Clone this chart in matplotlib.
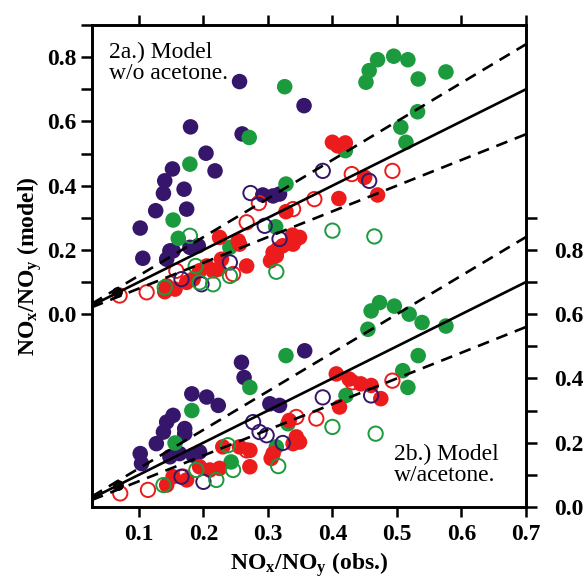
import matplotlib
matplotlib.use("Agg")
import matplotlib.pyplot as plt
from matplotlib.ticker import FixedLocator
import numpy as np

plt.rcParams['font.family'] = ['Liberation Serif', 'DejaVu Serif']
plt.rcParams['mathtext.fontset'] = 'custom'
plt.rcParams['mathtext.rm'] = 'Liberation Serif'
plt.rcParams['mathtext.bf'] = 'Liberation Serif:bold'
plt.rcParams['mathtext.it'] = 'Liberation Serif:italic'

PURPLE = '#36166a'
GREEN = '#1b9a3e'
RED = '#ec1c1c'

# ---------------- Panel 2a (model w/o acetone), left axis ----------------
a_purple_x = [0.256, 0.356, 0.180, 0.260, 0.204, 0.152, 0.218, 0.140, 0.170, 0.138, 0.126,
              0.174, 0.102, 0.106, 0.292, 0.308, 0.318, 0.148, 0.153, 0.179, 0.192, 0.143]
a_purple_y = [0.724, 0.649, 0.583, 0.561, 0.501, 0.452, 0.446, 0.415, 0.389, 0.376, 0.322,
              0.327, 0.268, 0.174, 0.371, 0.368, 0.374, 0.197, 0.197, 0.208, 0.213, 0.171]
a_green_x = [0.326, 0.452, 0.457, 0.470, 0.495, 0.517, 0.533, 0.576, 0.532, 0.506, 0.514,
             0.420, 0.271, 0.179, 0.328, 0.153, 0.161, 0.312, 0.241]
a_green_y = [0.708, 0.722, 0.758, 0.792, 0.803, 0.792, 0.732, 0.754, 0.630, 0.582, 0.535,
             0.509, 0.550, 0.467, 0.405, 0.293, 0.236, 0.272, 0.208]
a_red_x = [0.400, 0.408, 0.420, 0.410, 0.450, 0.470, 0.328, 0.338, 0.344, 0.349, 0.339,
           0.308, 0.304, 0.315, 0.225, 0.254, 0.256, 0.267, 0.205, 0.215, 0.223, 0.194,
           0.174, 0.184, 0.156, 0.143, 0.140, 0.323, 0.313, 0.228]
a_red_y = [0.535, 0.524, 0.533, 0.360, 0.426, 0.371, 0.319, 0.246, 0.234, 0.239, 0.218,
           0.192, 0.166, 0.202, 0.239, 0.228, 0.218, 0.150, 0.150, 0.135, 0.140, 0.135,
           0.099, 0.109, 0.078, 0.088, 0.070, 0.213, 0.182, 0.171]
a_red_open_x = [0.493, 0.430, 0.372, 0.339, 0.286, 0.267, 0.158, 0.112, 0.070, 0.246]
a_red_open_y = [0.446, 0.436, 0.358, 0.327, 0.346, 0.286, 0.135, 0.068, 0.058, 0.125]
a_purple_open_x = [0.385, 0.457, 0.273, 0.295, 0.318, 0.241, 0.166, 0.197]
a_purple_open_y = [0.446, 0.415, 0.377, 0.275, 0.234, 0.161, 0.109, 0.093]
a_green_open_x = [0.400, 0.465, 0.313, 0.188, 0.241, 0.179, 0.194, 0.215, 0.140]
a_green_open_y = [0.260, 0.242, 0.132, 0.150, 0.119, 0.244, 0.099, 0.093, 0.083]
a_black_x = [0.066]
a_black_y = [0.070]

# ---------------- Panel 2b (model w/ acetone), right axis ----------------
b_purple_x = [0.357, 0.259, 0.263, 0.182, 0.205, 0.223, 0.153, 0.143, 0.138, 0.171, 0.171,
              0.127, 0.102, 0.104, 0.303, 0.318, 0.148, 0.163, 0.184, 0.194]
b_purple_y = [0.486, 0.450, 0.403, 0.352, 0.342, 0.316, 0.285, 0.264, 0.233, 0.244, 0.228,
              0.197, 0.166, 0.135, 0.321, 0.316, 0.156, 0.166, 0.161, 0.171]
b_green_x = [0.328, 0.455, 0.460, 0.473, 0.496, 0.519, 0.539, 0.576, 0.533, 0.509, 0.517,
             0.421, 0.272, 0.182, 0.331, 0.156, 0.313, 0.243]
b_green_y = [0.471, 0.553, 0.610, 0.636, 0.625, 0.600, 0.574, 0.563, 0.471, 0.424, 0.372,
             0.347, 0.372, 0.300, 0.259, 0.199, 0.187, 0.140]
b_red_x = [0.406, 0.426, 0.444, 0.460, 0.475, 0.411, 0.333, 0.344, 0.349, 0.339, 0.308,
           0.305, 0.230, 0.256, 0.272, 0.272, 0.194, 0.210, 0.225, 0.153, 0.143, 0.174]
b_red_y = [0.414, 0.398, 0.383, 0.378, 0.337, 0.311, 0.269, 0.218, 0.202, 0.197, 0.166,
           0.151, 0.187, 0.187, 0.176, 0.125, 0.125, 0.115, 0.120, 0.094, 0.068, 0.084]
b_red_open_x = [0.493, 0.431, 0.375, 0.344, 0.267, 0.169, 0.114, 0.071]
b_red_open_y = [0.393, 0.388, 0.275, 0.280, 0.176, 0.094, 0.053, 0.042]
b_purple_open_x = [0.385, 0.460, 0.277, 0.287, 0.298, 0.323, 0.166, 0.200]
b_purple_open_y = [0.341, 0.347, 0.264, 0.233, 0.223, 0.199, 0.094, 0.078]
b_green_open_x = [0.400, 0.467, 0.316, 0.238, 0.246, 0.189, 0.220, 0.138]
b_green_open_y = [0.249, 0.228, 0.127, 0.192, 0.115, 0.115, 0.084, 0.068]
b_black_x = [0.068]
b_black_y = [0.068]

# reference lines: 1:1 and +/-20 %
line_slopes = [1.0, 1.2, 0.8]
line_styles = ['-', '--', '--']
line_x = [0.027, 0.7]

x_ticks = [0.1, 0.2, 0.3, 0.4, 0.5, 0.6, 0.7]
y_major = [0.0, 0.2, 0.4, 0.6, 0.8]
y_minor = [0.1, 0.3, 0.5, 0.7, 0.9]

fig = plt.figure(figsize=(5.85, 5.82), dpi=100)
ax = fig.add_axes([0.157, 0.129, 0.742, 0.828])
ax2 = ax.twinx()

MS = 125
LW_OPEN = 1.4


def draw_panel(axis, px, py, gx, gy, rx, ry, rox, roy, pox, poy, gox, goy, kx, ky):
    axis.scatter(px, py, s=MS, c=PURPLE, edgecolors='none', zorder=2)
    axis.scatter(gx, gy, s=MS, c=GREEN, edgecolors='none', zorder=2)
    axis.scatter(rx, ry, s=MS, c=RED, edgecolors='none', zorder=2)
    axis.scatter(rox, roy, s=MS * 0.85, facecolors='none', edgecolors=RED, linewidths=LW_OPEN, zorder=3)
    axis.scatter(pox, poy, s=MS * 0.85, facecolors='none', edgecolors=PURPLE, linewidths=LW_OPEN, zorder=3)
    axis.scatter(gox, goy, s=MS * 0.85, facecolors='none', edgecolors=GREEN, linewidths=LW_OPEN, zorder=3)
    for sl, st in zip(line_slopes, line_styles):
        xx = np.array(line_x)
        ln, = axis.plot(xx, sl * xx, color='black', lw=1.9, ls=st, zorder=5,
                        solid_capstyle='butt')
        if st == '--':
            ln.set_dashes((4.5, 3.0))
    axis.scatter(kx, ky, s=45, c='black', marker='o', zorder=6)


draw_panel(ax, a_purple_x, a_purple_y, a_green_x, a_green_y, a_red_x, a_red_y,
           a_red_open_x, a_red_open_y, a_purple_open_x, a_purple_open_y,
           a_green_open_x, a_green_open_y, a_black_x, a_black_y)
draw_panel(ax2, b_purple_x, b_purple_y, b_green_x, b_green_y, b_red_x, b_red_y,
           b_red_open_x, b_red_open_y, b_purple_open_x, b_purple_open_y,
           b_green_open_x, b_green_open_y, b_black_x, b_black_y)

ax.set_xlim(0.027, 0.7)
ax.set_ylim(-0.6, 0.9)
ax2.set_ylim(0.0, 1.5)

ax.xaxis.set_major_locator(FixedLocator(x_ticks))
ax.set_xticklabels([f'{v:.1f}' for v in x_ticks])
ax.yaxis.set_major_locator(FixedLocator(y_major))
ax.yaxis.set_minor_locator(FixedLocator(y_minor))
ax.set_yticklabels([f'{v:.1f}' for v in y_major])
ax2.yaxis.set_major_locator(FixedLocator(y_major))
ax2.yaxis.set_minor_locator(FixedLocator(y_minor))
ax2.set_yticklabels([f'{v:.1f}' for v in y_major])

for a in (ax, ax2):
    for sp in a.spines.values():
        sp.set_linewidth(1.9)
ax.tick_params(axis='x', which='both', direction='out', length=7, width=1.8,
               top=True, bottom=True, labeltop=False, labelsize=17, pad=5)
ax.tick_params(axis='y', which='both', direction='out', length=8, width=1.8,
               left=True, right=False, labelsize=17, pad=3)
ax2.tick_params(axis='y', which='both', direction='out', length=8, width=1.8,
                left=False, right=True, labelsize=17, pad=12)
for lab in ax.get_xticklabels() + ax.get_yticklabels() + ax2.get_yticklabels():
    lab.set_fontweight('bold')

ax.set_xlabel(r'NO$_{\mathbf{x}}$/NO$_{\mathbf{y}}$ (obs.)', fontsize=17, fontweight='bold', labelpad=4)
ax.set_ylabel(r'NO$_{\mathbf{x}}$/NO$_{\mathbf{y}}$ (model)', fontsize=17, fontweight='bold', labelpad=2)

ax.text(0.04, 0.965, '2a.) Model\nw/o acetone.', transform=ax.transAxes,
        fontsize=17, va='top', ha='left', linespacing=1.0)
ax.text(0.695, 0.13, '2b.) Model\nw/acetone.', transform=ax.transAxes,
        fontsize=17, va='top', ha='left', linespacing=1.0)

fig.savefig('out.png', dpi=100)
